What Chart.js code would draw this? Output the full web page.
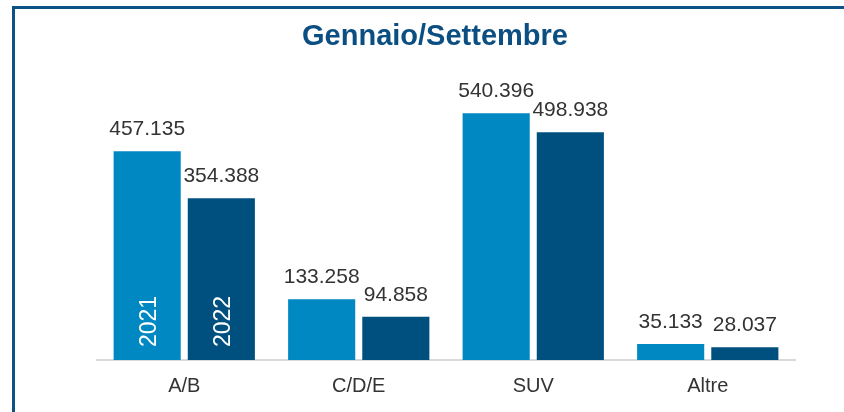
<!DOCTYPE html>
<html>
<head>
<meta charset="utf-8">
<script src="https://cdn.jsdelivr.net/npm/chart.js@4.4.1/dist/chart.umd.min.js"></script>
<style>
  html, body { margin: 0; padding: 0; background: #ffffff; }
  #wrap { position: relative; width: 844px; height: 412px; }
</style>
</head>
<body>
<div id="wrap"><canvas id="c" width="844" height="412"></canvas></div>
<script>
const categories = ['A/B', 'C/D/E', 'SUV', 'Altre'];
const seriesNames = ['2021', '2022'];
const values2021 = [457135, 133258, 540396, 35133];
const values2022 = [354388, 94858, 498938, 28037];
const titleText = 'Gennaio/Settembre';

const FONT = "'Liberation Sans', Arial, Helvetica, sans-serif";
const COL_2021 = '#0088c2';
const COL_2022 = '#00507f';
const FRAME = '#0c5285';

function fmt(v) {
  return String(v).replace(/\B(?=(\d{3})+(?!\d))/g, '.');
}

const decorPlugin = {
  id: 'decor',
  beforeDraw(chart) {
    const ctx = chart.ctx;
    ctx.save();
    ctx.fillStyle = '#ffffff';
    ctx.fillRect(0, 0, chart.width, chart.height);
    ctx.fillStyle = FRAME;
    ctx.fillRect(12, 6, chart.width - 12, 3);
    ctx.fillRect(12, 6, 3, chart.height - 6);
    ctx.fillStyle = '#0b4f82';
    ctx.font = 'bold 29px ' + FONT;
    ctx.textAlign = 'center';
    ctx.textBaseline = 'alphabetic';
    ctx.fillText(titleText, 435, 45);
    ctx.restore();
  },
  afterDatasetsDraw(chart) {
    const ctx = chart.ctx;
    const base = chart.scales.y.getPixelForValue(0);
    ctx.save();
    chart.data.datasets.forEach((ds, di) => {
      const meta = chart.getDatasetMeta(di);
      meta.data.forEach((bar, i) => {
        ctx.fillStyle = '#333333';
        ctx.font = '21px ' + FONT;
        ctx.textAlign = 'center';
        ctx.textBaseline = 'alphabetic';
        ctx.fillText(fmt(ds.data[i]), bar.x, bar.y - 16);
        if (i === 0) {
          ctx.save();
          ctx.translate(bar.x + 8.5, base - 13);
          ctx.rotate(-Math.PI / 2);
          ctx.fillStyle = '#ffffff';
          ctx.font = '23px ' + FONT;
          ctx.textAlign = 'left';
          ctx.fillText(ds.label, 0, 0);
          ctx.restore();
        }
      });
    });
    ctx.restore();
  }
};

new Chart(document.getElementById('c'), {
  type: 'bar',
  data: {
    labels: categories,
    datasets: [
      { label: seriesNames[0], data: values2021, backgroundColor: COL_2021 },
      { label: seriesNames[1], data: values2022, backgroundColor: COL_2022 }
    ]
  },
  options: {
    responsive: false,
    animation: false,
    devicePixelRatio: 1,
    layout: { padding: { left: 97, right: 49, top: 86, bottom: 0 } },
    datasets: { bar: { categoryPercentage: 0.85, barPercentage: 0.905 } },
    plugins: {
      legend: { display: false },
      title: { display: false },
      tooltip: { enabled: false }
    },
    scales: {
      x: {
        grid: { display: false, drawTicks: false },
        border: { display: true, color: '#d9d9d9', width: 2 },
        ticks: { color: '#333333', font: { family: FONT, size: 20 }, padding: 14 },
        afterFit(s) { s.height = 52; }
      },
      y: {
        display: false,
        min: 0,
        max: 600000
      }
    }
  },
  plugins: [decorPlugin]
});
</script>
</body>
</html>
